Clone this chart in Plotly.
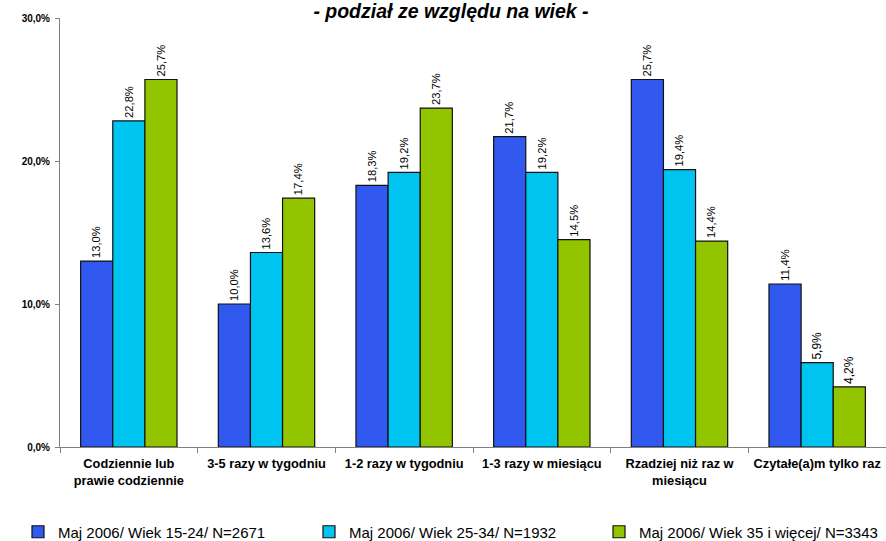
import plotly.graph_objects as go

categories = ["Codziennie lub<br>prawie codziennie", "3-5 razy w tygodniu", "1-2 razy w tygodniu",
              "1-3 razy w miesiącu", "Rzadziej niż raz w<br>miesiącu", "Czytałe(a)m tylko raz"]
series_names = ["Maj 2006/ Wiek 15-24/ N=2671", "Maj 2006/ Wiek 25-34/ N=1932",
                "Maj 2006/ Wiek 35 i więcej/ N=3343"]
s1 = [13.0, 10.0, 18.3, 21.7, 25.7, 11.4]
s2 = [22.8, 13.6, 19.2, 19.2, 19.4, 5.9]
s3 = [25.7, 17.4, 23.7, 14.5, 14.4, 4.2]
colors = ["#3159F0", "#00C4F0", "#92C400"]
ytick_vals = [0, 10, 20, 30]
ytick_text = ["0,0%", "10,0%", "20,0%", "30,0%"]

legend_ids = ["legend", "legend2", "legend3"]
legend_x = [18, 309, 599]

fig = go.Figure()
for name, vals, col, lg in zip(series_names, [s1, s2, s3], colors, legend_ids):
    fig.add_trace(go.Bar(
        x=categories, y=vals, name=name, legend=lg,
        marker=dict(color=col, line=dict(color="#111111", width=1.2)),
        text=[f"{v:.1f}%".replace(".", ",") for v in vals],
        textposition="outside", textangle=-90,
        textfont=dict(family="Liberation Sans Narrow, Arial Narrow, Arial", size=12, color="#000000"),
        cliponaxis=False,
    ))

legend_common = dict(orientation="h", xref="container", yref="container",
                     xanchor="left", yanchor="middle", y=1 - 532 / 541,
                     font=dict(family="Arial", size=15, color="#000000"),
                     bgcolor="rgba(0,0,0,0)")

fig.update_layout(
    width=886, height=541,
    barmode="group", bargap=0.30, bargroupgap=0.0,
    plot_bgcolor="white", paper_bgcolor="white",
    margin=dict(l=60, r=0, t=18, b=94),
    title=dict(text="<b><i>- podział ze względu na wiek -</i></b>", x=451 / 886, xanchor="center",
               y=1 - 11 / 541, yanchor="middle", font=dict(family="Arial", size=19.5, color="#000000")),
    font=dict(family="Arial", color="#000000"),
    showlegend=True,
    legend=dict(x=legend_x[0] / 886, **legend_common),
    legend2=dict(x=legend_x[1] / 886, **legend_common),
    legend3=dict(x=legend_x[2] / 886, **legend_common),
)
fig.update_yaxes(range=[0, 30], tickvals=ytick_vals, ticktext=ytick_text,
                 showgrid=False, showline=True, linecolor="#808080", linewidth=1,
                 ticks="outside", ticklen=4, tickcolor="#808080", zeroline=False,
                 ticklabelstandoff=3,
                 tickfont=dict(family="Arial", size=10, color="#000000", weight="bold"))
fig.update_xaxes(showgrid=False, showline=True, linecolor="#808080", linewidth=1,
                 ticks="outside", ticklen=5, tickcolor="#808080", tickson="boundaries",
                 ticklabelstandoff=5,
                 tickfont=dict(family="Arial", size=12.8, color="#000000", weight="bold"),
                 tickangle=0)

fig.write_html("out.html", config={"displayModeBar": False},
               post_script="document.body.style.margin='0';")
